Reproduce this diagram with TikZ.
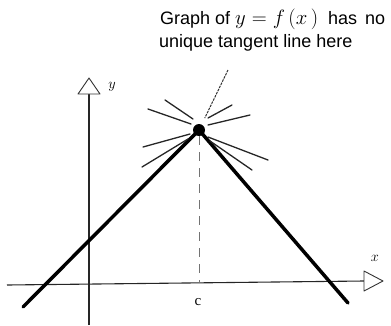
\documentclass[tikz,border=0pt]{standalone}
\usepackage{fontspec}
\setmainfont{Liberation Sans}
\newfontfamily\seriffont{Liberation Serif}
\begin{document}
\begin{tikzpicture}[x=1pt,y=-1pt,
  axis/.style={line width=1.1pt, black!85},
  arrowtri/.style={draw=black!80, line width=0.9pt, fill=white, line join=round},
  graphline/.style={line width=3.5pt, line cap=round, line join=round},
  tangent/.style={line width=1.3pt, black!85, line cap=round},
  pointer/.style={line width=1pt, black!80, dash pattern=on 2.5pt off 1pt},
  guide/.style={line width=0.8pt, black!55, dash pattern=on 9pt off 7pt},
  lbl/.style={font=\fontsize{18}{23}\selectfont, inner sep=0pt, anchor=base west},
  axlbl/.style={font=\fontsize{15}{15}\selectfont, inner sep=0pt}
]
\useasboundingbox (0,0) rectangle (391,325);
% axes
\coordinate (yb) at (89,325);
\coordinate (yt) at (89,94);
\coordinate (xl) at (7,285);
\coordinate (xr) at (364,281);
\draw[axis] (yb) -- (yt);
\draw[axis] (xl) -- (xr);
\draw[arrowtri] (yt) -- ++(-11,0) -- ++(11,-16) -- ++(11,16) -- cycle;
\draw[arrowtri] (xr) -- ++(0,-10) -- ++(19,10) -- ++(-19,10) -- cycle;
\node[axlbl] (ylab) at (112,87) {$y$};
\node[axlbl] (xlab) at (375,258) {$x$};
% graph
\node[circle, fill, inner sep=0pt, minimum size=12pt] (P) at (199,130) {};
\coordinate (L) at (23,307);
\coordinate (R) at (348,303);
\draw[graphline] (L) -- (P.center) -- (R);
\coordinate (C) at (199,283);
\draw[guide] (P.south) -- (C);
\node[axlbl, font=\fontsize{15}{15}\selectfont\seriffont] (clab) at (198,302) {c};
% candidate tangent lines
\draw[tangent] (165,100) -- (193,119);
\draw[tangent] (148,109) -- (191,124);
\draw[tangent] (143,147) -- (190,134);
\draw[tangent] (142,167) -- (188,139);
\draw[tangent] (208,118) -- (232,105);
\draw[tangent] (208,125) -- (250,115);
\draw[tangent] (208,137) -- (268,160);
\draw[tangent] (210,141) -- (252,170);
% annotation
\node[lbl] (T1) at (160,24) {Graph of\hspace{5pt}{\fontsize{20}{23}\selectfont $y$\hspace{6pt}$=$\hspace{6pt}$f\,(x\,)$}\hspace{5pt} has\hspace{3pt} no};
\node[lbl] (T2) at (159,47) {unique tangent line here};
\coordinate (ps) at (228,70);
\draw[pointer, shorten >=7pt] (ps) -- (P);
\end{tikzpicture}
\end{document}
